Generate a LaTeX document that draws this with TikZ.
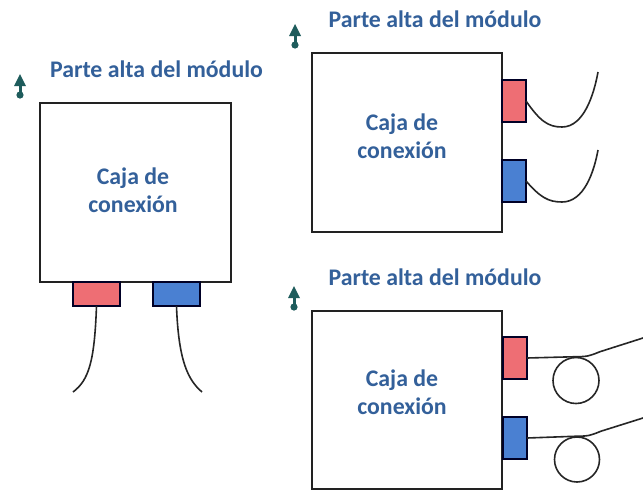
\documentclass[tikz,border=0pt]{standalone}
\usepackage{fontspec}
\setmainfont{Carlito}
\definecolor{txtblue}{HTML}{33609A}
\definecolor{conred}{HTML}{EE6E74}
\definecolor{conblue}{HTML}{4A80D2}
\definecolor{arrteal}{HTML}{1E5C5C}
\definecolor{edgec}{HTML}{222222}
\begin{document}
\begin{tikzpicture}[x=1pt,y=-1pt,
  jbox/.style={draw=edgec,line width=1.6pt,fill=white,inner sep=0pt,outer sep=0pt,rectangle},
  conn/.style={draw=black!85!blue,line width=1.4pt,inner sep=0pt,outer sep=0pt,rectangle},
  hconn/.style={conn,minimum width=47pt,minimum height=24pt},
  vconn/.style={conn,minimum width=24pt,minimum height=42pt},
  lbl/.style={text=txtblue,font=\fontsize{23.8}{28}\selectfont\bfseries,align=center,inner sep=0pt},
  ttl/.style={text=txtblue,font=\fontsize{23.8}{28}\selectfont\bfseries,inner sep=0pt},
  cable/.style={draw=black!85,line width=1.6pt},
  upmark/.style={fill=arrteal,draw=none}
]
\useasboundingbox (0,0) rectangle (643,491);
\fill[white] (0,0) rectangle (643,491);

% ---------- left panel ----------
\node[jbox,minimum width=191pt,minimum height=179pt] (boxA) at (135.5,192.5) {};
\node[lbl] (txtA) at (133,190) {Caja de\\conexión};
\node[hconn,fill=conred] (redA) at (96.5,294) {};
\node[hconn,fill=conblue] (blueA) at (176.5,294) {};
\coordinate (redAend) at (73,392);
\coordinate (blueAend) at (202,392);
\draw[cable] (redA.south) .. controls +(-2,55) and +(16,-12) .. (redAend);
\draw[cable] (blueA.south) .. controls +(2,55) and +(-14,-12) .. (blueAend);
\node[ttl] (ttlA) at (156.5,69) {Parte alta del módulo};
\coordinate (arrA) at (20,74);
\fill[upmark] (arrA) -- ++(6,12) -- ++(-12,0) -- cycle;
\draw[arrteal,line width=3pt] ([yshift=-11pt]arrA) -- ([yshift=-20pt]arrA);
\fill[arrteal] ([yshift=-21pt]arrA) circle (3.6pt);

% ---------- top-right panel ----------
\node[jbox,minimum width=190pt,minimum height=179pt] (boxB) at (407,142.5) {};
\node[lbl] (txtB) at (402,136.5) {Caja de\\conexión};
\node[vconn,fill=conred] (redB) at (514,101) {};
\node[vconn,fill=conblue] (blueB) at (514,181) {};
\coordinate (redBlow) at (562,127);
\coordinate (redBend) at (598,72);
\coordinate (blueBlow) at (562,202);
\coordinate (blueBend) at (598,150);
\draw[cable] (redB.east) .. controls +(14,20) and +(-14,0) .. (redBlow) .. controls +(22,0) and +(-4,22) .. (redBend);
\draw[cable] (blueB.east) .. controls +(14,16) and +(-14,0) .. (blueBlow) .. controls +(22,0) and +(-4,22) .. (blueBend);
\node[ttl] (ttlB) at (435,19) {Parte alta del módulo};
\coordinate (arrB) at (295,24);
\fill[upmark] (arrB) -- ++(6,12) -- ++(-12,0) -- cycle;
\draw[arrteal,line width=3pt] ([yshift=-11pt]arrB) -- ([yshift=-20pt]arrB);
\fill[arrteal] ([yshift=-21pt]arrB) circle (3.6pt);

% ---------- bottom-right panel ----------
\node[jbox,minimum width=190pt,minimum height=178pt] (boxC) at (407,400) {};
\node[lbl] (txtC) at (402,392.5) {Caja de\\conexión};
\node[vconn,fill=conred] (redC) at (515,358) {};
\node[vconn,fill=conblue] (blueC) at (515,438) {};
\node[circle,draw=black!85,line width=1.6pt,minimum size=46pt,inner sep=0pt] (loopR) at (576,380.5) {};
\node[circle,draw=black!85,line width=1.6pt,minimum size=45pt,inner sep=0pt] (loopB) at (577,459.5) {};
\coordinate (redCend) at (643,338);
\coordinate (blueCend) at (643,418);
\draw[cable] (redC.east) -- (loopR.north) .. controls +(12,0) and +(-10,4) .. ++(24,-5) -- (redCend);
\draw[cable] (blueC.east) -- (loopB.north) .. controls +(12,0) and +(-10,4) .. ++(24,-5) -- (blueCend);
\node[ttl] (ttlC) at (435,277) {Parte alta del módulo};
\coordinate (arrC) at (294,286);
\fill[upmark] (arrC) -- ++(6,12) -- ++(-12,0) -- cycle;
\draw[arrteal,line width=3pt] ([yshift=-11pt]arrC) -- ([yshift=-20pt]arrC);
\fill[arrteal] ([yshift=-21pt]arrC) circle (3.6pt);
\end{tikzpicture}
\end{document}
